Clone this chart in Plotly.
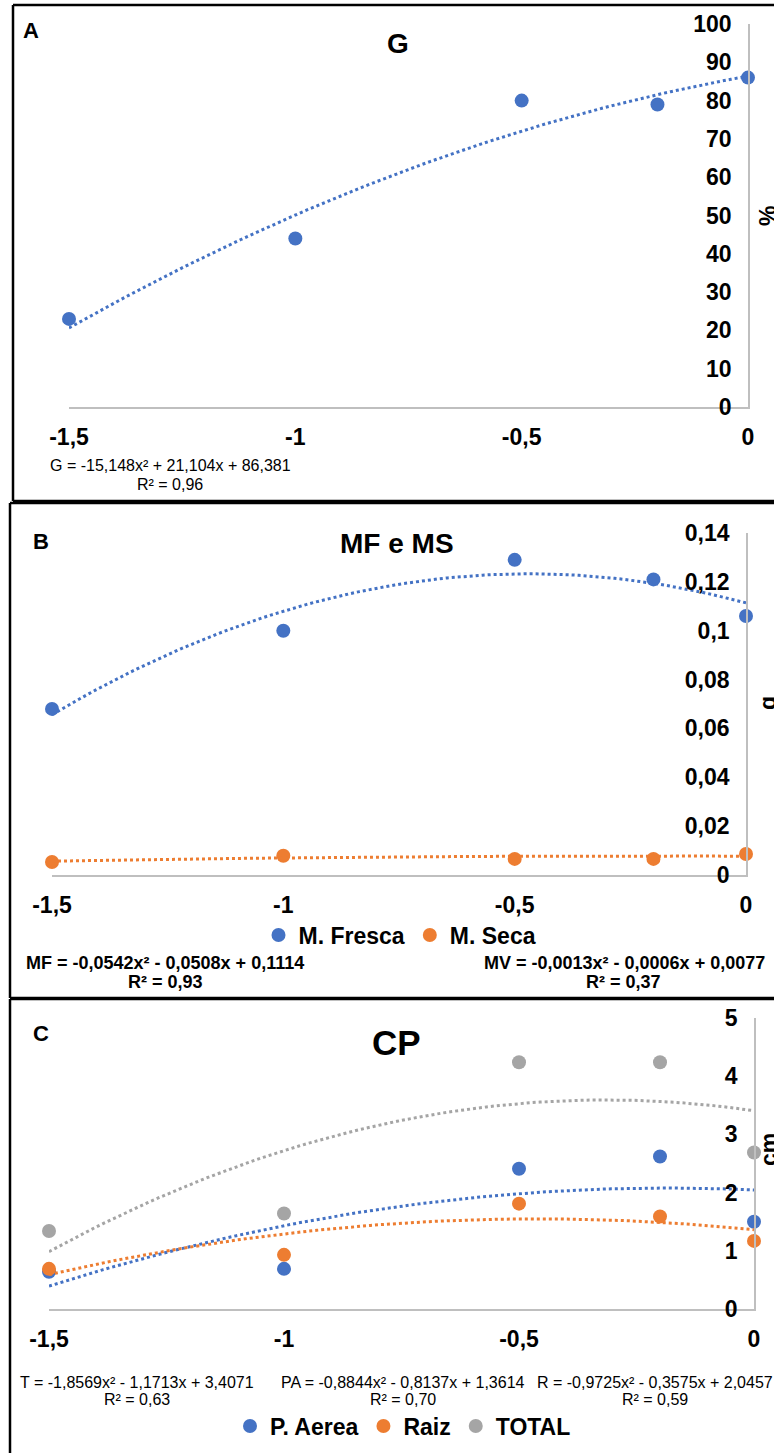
import numpy as np
import plotly.graph_objects as go

W, H = 774, 1453

# ---------------- data ----------------
x_levels = [-1.5, -1.0, -0.5, -0.2, 0.0]
x_tickvals = [-1.5, -1.0, -0.5, 0.0]
x_ticktext = ["-1,5", "-1", "-0,5", "0"]

# Panel A - G (%)
g_vals = [23, 44, 80, 79, 86]
g_fit = [-15.148, 21.104, 86.381]
a_tickvals = [0, 10, 20, 30, 40, 50, 60, 70, 80, 90, 100]
a_ticktext = ["0", "10", "20", "30", "40", "50", "60", "70", "80", "90", "100"]

# Panel B - MF e MS (g)
mf_vals = [0.068, 0.100, 0.129, 0.121, 0.106]
ms_vals = [0.0053, 0.0079, 0.0066, 0.0066, 0.0086]
mf_fit = [-0.0542, -0.0508, 0.1114]
mv_fit = [-0.0013, -0.0006, 0.0077]
b_tickvals = [0, 0.02, 0.04, 0.06, 0.08, 0.10, 0.12, 0.14]
b_ticktext = ["0", "0,02", "0,04", "0,06", "0,08", "0,1", "0,12", "0,14"]

# Panel C - CP (cm)
pa_vals = [0.64, 0.69, 2.41, 2.62, 1.50]
raiz_vals = [0.69, 0.93, 1.81, 1.59, 1.17]
total_vals = [1.34, 1.64, 4.24, 4.24, 2.69]
t_fit = [-1.8569, -1.1713, 3.4071]
pa_fit = [-0.8844, -0.8137, 1.3614]   # drawn in orange in the original
r_fit = [-0.9725, -0.3575, 2.0457]    # drawn in blue in the original
c_tickvals = [0, 1, 2, 3, 4, 5]
c_ticktext = ["0", "1", "2", "3", "4", "5"]

BLUE, ORANGE, GRAY = "#4472C4", "#ED7D31", "#A5A5A5"
AXIS = "#BFBFBF"
FONT = "Liberation Sans, Arial, sans-serif"

xs = np.linspace(-1.5, 0, 80)


def trend(c):
    return np.polyval(c, xs)


def px(x):
    return x / W


def py(y):
    return 1 - y / H


fig = go.Figure()

MS = 14


def pts(x, y, color, name, xa, ya, legend=None, show=False):
    fig.add_trace(go.Scatter(x=x, y=y, mode="markers", name=name,
                             marker=dict(color=color, size=MS),
                             xaxis=xa, yaxis=ya, cliponaxis=False,
                             showlegend=show, legend=legend))


def line(c, color, xa, ya):
    fig.add_trace(go.Scatter(x=xs, y=trend(c), mode="lines",
                             line=dict(color=color, width=3, dash="dot"),
                             xaxis=xa, yaxis=ya, showlegend=False,
                             cliponaxis=False, hoverinfo="skip"))


# Panel A
pts(x_levels, g_vals, BLUE, "G", "x", "y")
line(g_fit, BLUE, "x", "y")

# Panel B
pts(x_levels, mf_vals, BLUE, "M. Fresca", "x2", "y2", "legend", True)
pts(x_levels, ms_vals, ORANGE, "M. Seca", "x2", "y2", "legend", True)
line(mf_fit, BLUE, "x2", "y2")
line(mv_fit, ORANGE, "x2", "y2")

# Panel C
pts(x_levels, pa_vals, BLUE, "P. Aerea", "x3", "y3", "legend2", True)
pts(x_levels, raiz_vals, ORANGE, "Raiz", "x3", "y3", "legend2", True)
pts(x_levels, total_vals, GRAY, "TOTAL", "x3", "y3", "legend2", True)
line(r_fit, BLUE, "x3", "y3")
line(pa_fit, ORANGE, "x3", "y3")
line(t_fit, GRAY, "x3", "y3")

tickfont = dict(family=FONT, size=23, color="black", weight="bold")


def xaxis(domain, anchor):
    return dict(domain=domain, anchor=anchor, range=[-1.5, 0],
                tickvals=x_tickvals, ticktext=x_ticktext,
                showline=True, linecolor=AXIS, linewidth=2,
                showgrid=False, zeroline=False, ticks="", automargin=False,
                tickfont=tickfont, ticklabelstandoff=8)


def yaxis(domain, anchor, rng, tv, tt):
    return dict(domain=domain, anchor=anchor, range=rng, side="right",
                tickvals=tv, ticktext=tt, ticklabelposition="inside",
                ticklabeloverflow="allow", automargin=False,
                showline=True, linecolor=AXIS, linewidth=2,
                showgrid=False, zeroline=False, ticks="",
                tickfont=tickfont, ticklabelstandoff=18)


layout = dict(
    width=W, height=H, autosize=False,
    margin=dict(l=0, r=0, t=0, b=0, autoexpand=False),
    paper_bgcolor="white", plot_bgcolor="white",
    font=dict(family=FONT, color="black"),
    xaxis=xaxis([px(69), px(748)], "y"),
    yaxis=yaxis([py(407), py(24)], "x", [0, 100], a_tickvals, a_ticktext),
    xaxis2=xaxis([px(52), px(746)], "y2"),
    yaxis2=yaxis([py(875), py(533)], "x2", [0, 0.14], b_tickvals, b_ticktext),
    xaxis3=xaxis([px(49), px(754)], "y3"),
    yaxis3=yaxis([py(1309), py(1018)], "x3", [0, 5], c_tickvals, c_ticktext),
    legend=dict(orientation="h", x=px(400), xanchor="center", y=py(935), yanchor="middle",
                font=dict(family=FONT, size=23, weight="bold"), bgcolor="rgba(0,0,0,0)"),
    legend2=dict(orientation="h", x=px(403), xanchor="center", y=py(1426), yanchor="middle",
                 font=dict(family=FONT, size=23, weight="bold"), bgcolor="rgba(0,0,0,0)"),
    showlegend=True,
)
fig.update_layout(**layout)

# panel borders (lines kept inside the figure)
border = dict(color="black", width=2.5)
for (y0, y1, x0, bottom) in [(5, 501, 13, True), (503, 998, 10, True), (999, 1453, 10, False)]:
    fig.add_shape(type="line", xref="paper", yref="paper",
                  x0=px(x0), x1=1, y0=py(y0), y1=py(y0), line=border)
    fig.add_shape(type="line", xref="paper", yref="paper",
                  x0=px(x0), x1=px(x0), y0=py(y0), y1=py(y1), line=border)
    if bottom:
        fig.add_shape(type="line", xref="paper", yref="paper",
                      x0=px(x0), x1=1, y0=py(y1), y1=py(y1), line=border)


def ann(text, x, y, size, bold=False, angle=0):
    fig.add_annotation(text=text, x=px(x), y=py(y), xref="paper", yref="paper",
                       xanchor="center", yanchor="middle", showarrow=False,
                       textangle=angle,
                       font=dict(family=FONT, size=size, color="black",
                                 weight="bold" if bold else "normal"))


# panel letters and titles
ann("A", 31, 31, 22, True)
ann("B", 41, 541, 22, True)
ann("C", 41, 1033, 22, True)
ann("G", 398, 44, 28, True)
ann("MF e MS", 397, 543, 28, True)
ann("CP", 397, 1042, 35, True)

# axis titles (partly past the right edge, as in the original)
ann("%", 768, 216, 23, True, -90)
ann("g", 768, 703, 23, True, -90)
ann("cm", 769, 1150, 23, True, -90)

# equations
ann("G = -15,148x² + 21,104x + 86,381", 170, 466, 16)
ann("R² = 0,96", 170, 484, 16)
ann("MF = -0,0542x² - 0,0508x + 0,1114", 165, 963, 18, True)
ann("R² = 0,93", 165, 982, 18, True)
ann("MV = -0,0013x² - 0,0006x + 0,0077", 624, 963, 18, True)
ann("R² = 0,37", 623, 982, 18, True)
ann("T = -1,8569x² - 1,1713x + 3,4071", 137, 1382, 16)
ann("R² = 0,63", 137, 1399, 16)
ann("PA = -0,8844x² - 0,8137x + 1,3614", 403, 1382, 16)
ann("R² = 0,70", 403, 1399, 16)
ann("R = -0,9725x² - 0,3575x + 2,0457", 655, 1382, 16)
ann("R² = 0,59", 655, 1399, 16)

fig.write_html("out.html", config={"displayModeBar": False},
               post_script="document.body.style.margin='0';")
